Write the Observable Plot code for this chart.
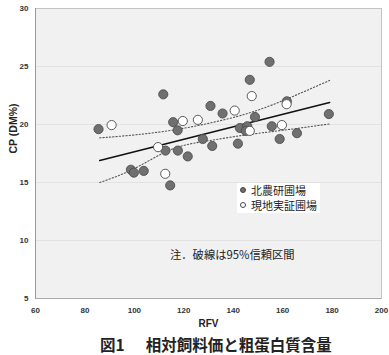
<!DOCTYPE html>
<html><head><meta charset="utf-8">
<script src="https://cdn.jsdelivr.net/npm/d3@7"></script>
<script src="https://cdn.jsdelivr.net/npm/@observablehq/plot@0.6"></script>
<style>
html,body{margin:0;padding:0;background:#fff;}
#wrap{position:relative;width:389px;height:355px;font-family:"Liberation Sans",Arial,sans-serif;}
.jp{font-family:"Noto Sans CJK JP","Noto Sans",sans-serif;}
#legend{position:absolute;left:237px;top:183px;width:83px;height:30px;background:#fff;font-size:11px;color:#222;line-height:15px;}
#legend div{white-space:nowrap;padding-left:14px;position:relative;}
#legend .dot{position:absolute;left:3px;top:4px;width:6px;height:6px;border-radius:50%;box-sizing:border-box;}
#note{position:absolute;left:170px;top:246px;font-size:11.3px;color:#222;white-space:nowrap;}
#title{position:absolute;left:100px;top:333px;font-size:15.5px;color:#222;white-space:nowrap;font-weight:bold;}
</style>
</head><body>
<div id="wrap"></div>
<script>
// 北農研圃場 (filled)
const rfvHokuno = [85.5,111.7,115.7,117.5,112.6,117.6,121.6,98.6,99.8,103.8,114.5,154.7,146.7,130.8,135.7,161.7,178.7,148.8,142.7,145.7,145.1,155.6,165.8,158.8,141.9,127.7,131.5];
const cpHokuno  = [19.6,22.6,20.2,19.5,17.75,17.75,17.25,16.1,15.85,16.0,14.75,25.4,23.85,21.6,20.95,22.0,20.9,20.65,19.7,19.85,19.45,19.85,19.25,18.75,18.35,18.75,18.15];
// 現地実証圃場 (open)
const rfvGenchi = [90.8,119.6,125.7,109.6,112.5,147.5,140.6,161.6,146.7,159.7];
const cpGenchi  = [19.95,20.3,20.4,18.05,15.75,22.45,21.2,21.75,19.45,19.95];
// regression line and 95% confidence band
const fitX = [86, 179];
const fitY = [16.9, 21.9];
const ciX = [86, 100, 115, 130, 145, 160, 179];
const ciUpper = [18.85, 19.1, 19.5, 20.1, 20.9, 22.05, 23.8];
const ciLower = [15.0, 16.2, 17.85, 18.6, 19.1, 19.5, 20.05];
const xTicks = [60,80,100,120,140,160,180,200];
const yTicks = [5,10,15,20,25,30];
const legendLabels = ["北農研圃場","現地実証圃場"];
const noteText = "注．破線は95%信頼区間";
const titleText = ["図1","相対飼料価と粗蛋白質含量"];

const hok = rfvHokuno.map((x,i)=>({x, y: cpHokuno[i]}));
const gen = rfvGenchi.map((x,i)=>({x, y: cpGenchi[i]}));
const fit = fitX.map((x,i)=>({x, y: fitY[i]}));
const up = ciX.map((x,i)=>({x, y: ciUpper[i]}));
const lo = ciX.map((x,i)=>({x, y: ciLower[i]}));

const plot = Plot.plot({
  width: 389, height: 334,
  marginLeft: 35, marginRight: 8, marginTop: 8, marginBottom: 36,
  style: {fontFamily: '"Liberation Sans", Arial, sans-serif', background: "transparent", overflow: "visible"},
  x: {domain: [60, 200]},
  y: {domain: [5, 30]},
  marks: [
    Plot.frame({fill: "#f1f1f1", stroke: null}),
    Plot.gridY(yTicks.slice(1,-1), {stroke: "#e2e2e2", strokeOpacity: 1, strokeWidth: 1}),
    Plot.frame({stroke: "#c4c4c4", strokeWidth: 1}),
    Plot.ruleX([60], {stroke: "#999"}),
    Plot.ruleY([5], {stroke: "#aaa"}),
    Plot.axisX(xTicks, {tickSize: 0, tickPadding: 9, fontSize: 8, fontWeight: "bold", fill: "#333", label: null}),
    Plot.axisY(yTicks, {tickSize: 0, tickPadding: 7, fontSize: 8, fontWeight: "bold", fill: "#333", label: null}),
    Plot.text(["CP (DM%)"], {frameAnchor: "left", dx: -22, rotate: -90, fontSize: 10.5, fontWeight: "bold", fill: "#222"}),
    Plot.text(["RFV"], {frameAnchor: "bottom", dy: 28, fontSize: 10, fontWeight: "bold", fill: "#222"}),
    Plot.line(up, {x: "x", y: "y", curve: "natural", stroke: "#555", strokeWidth: 1.1, strokeDasharray: "1.3,2"}),
    Plot.line(lo, {x: "x", y: "y", curve: "natural", stroke: "#555", strokeWidth: 1.1, strokeDasharray: "1.3,2"}),
    Plot.line(fit, {x: "x", y: "y", stroke: "#111", strokeWidth: 1.6}),
    Plot.dot(hok, {x: "x", y: "y", r: 4.6, fill: "#707070", stroke: "#454545", strokeWidth: 0.8}),
    Plot.dot(gen, {x: "x", y: "y", r: 4.6, fill: "#fff", stroke: "#4a4a4a", strokeWidth: 0.9})
  ]
});
const wrap = document.getElementById("wrap");
wrap.appendChild(plot);

const lg = document.createElement("div");
lg.id = "legend"; lg.className = "jp";
lg.innerHTML = `<div><span class="dot" style="background:#707070;border:0.8px solid #454545"></span>${legendLabels[0]}</div>` +
               `<div><span class="dot" style="background:#fff;border:0.9px solid #4a4a4a"></span>${legendLabels[1]}</div>`;
wrap.appendChild(lg);

const nt = document.createElement("div");
nt.id = "note"; nt.className = "jp"; nt.textContent = noteText;
wrap.appendChild(nt);

const tt = document.createElement("div");
tt.id = "title"; tt.className = "jp";
tt.innerHTML = `${titleText[0]}<span style="display:inline-block;width:21px"></span>${titleText[1]}`;
wrap.appendChild(tt);
</script>
</body></html>
